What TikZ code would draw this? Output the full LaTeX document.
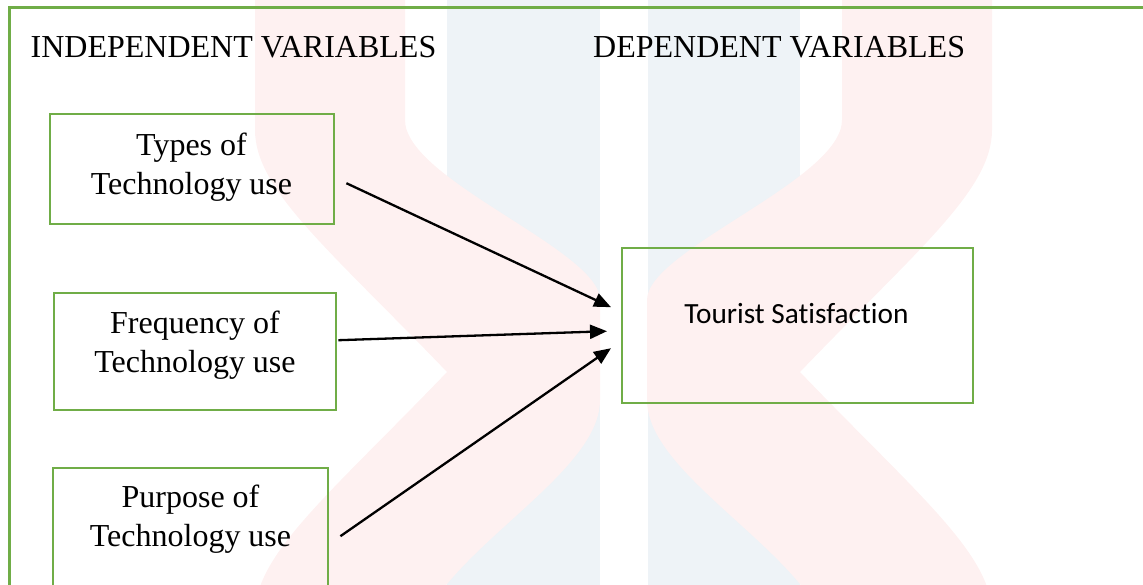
\documentclass[tikz,border=0pt]{standalone}
\usepackage{fontspec}
\setmainfont{Liberation Serif}
\newfontfamily\calibrifont[Ligatures=NoCommon]{Carlito}
\usetikzlibrary{arrows.meta}
\definecolor{boxgreen}{RGB}{112,173,71}
\definecolor{wmpink}{RGB}{254,241,241}
\definecolor{wmblue}{RGB}{238,243,247}
\tikzset{
  varbox/.style={draw=boxgreen, line width=2.4pt, inner sep=0pt, anchor=north west},
  boxtext/.style={align=center, inner sep=0pt, font=\fontsize{32}{39}\selectfont},
  heading/.style={inner sep=0pt, anchor=base west, font=\fontsize{32}{39}\selectfont},
  arr/.style={line width=2.3pt, -{Triangle[length=17pt,width=14pt]}},
}
\begin{document}
\begin{tikzpicture}[x=1pt,y=-1pt]
\useasboundingbox (0,0) rectangle (1143,584);
\clip (0,0) rectangle (1143,584);
% watermark
\fill[wmblue] (447,-10) rectangle (600,700);
\fill[wmblue] (648,-10) rectangle (800,700);
\fill[wmpink] (255,-10) -- (405,-10) -- (405,120) .. controls (405,180) and (600,250) .. (600,300) -- (600,400) .. controls (600,460) and (500,520) .. (447,584) -- (405,650) -- (405,700) -- (255,700) -- (255,614) .. controls (255,554) and (330,494) .. (447,372) .. controls (330,250) and (255,190) .. (255,130) -- cycle;
\fill[wmpink] (992,-10) -- (842,-10) -- (842,120) .. controls (842,180) and (647,250) .. (647,300) -- (647,400) .. controls (647,460) and (747,520) .. (800,584) -- (842,650) -- (842,700) -- (992,700) -- (992,614) .. controls (992,554) and (917,494) .. (800,372) .. controls (917,250) and (992,190) .. (992,130) -- cycle;
% frame
\draw[boxgreen, line width=2.4pt] (9.5,7.5) rectangle (1200,700);
% headings
\node[heading] (hind) at (30.5,57) {INDEPENDENT VARIABLES};
\node[heading] (hdep) at (593,57) {DEPENDENT VARIABLES};
% boxes
\node[varbox, minimum width=284pt, minimum height=110pt] (b1) at (49,113) {};
\node[varbox, minimum width=282pt, minimum height=117pt] (b2) at (53,292) {};
\node[varbox, minimum width=275pt, minimum height=123pt] (b3) at (52,467) {};
\node[varbox, minimum width=351pt, minimum height=155pt] (ts) at (621,247) {};
% texts
\node[boxtext] (t1) at (191.5,167) {Types of\\Technology use};
\node[boxtext] (t2) at (195,345) {Frequency of\\Technology use};
\node[boxtext] (t3) at (190.5,519) {Purpose of\\Technology use};
\node[inner sep=0pt, anchor=base, font=\calibrifont\fontsize{29.3}{35}\selectfont] (tts) at (796.5,323) {Tourist Satisfaction};
% arrows
\draw[arr] ([xshift=11pt,yshift=-14pt]b1.east) -- ([xshift=-10pt,yshift=18.5pt]ts.west);
\draw[arr] ([xshift=1pt,yshift=11.5pt]b2.east) -- ([xshift=-14pt,yshift=-5.5pt]ts.west);
\draw[arr] ([xshift=11pt,yshift=-6.5pt]b3.east) -- ([xshift=-10pt,yshift=-22.5pt]ts.west);
\end{tikzpicture}
\end{document}
